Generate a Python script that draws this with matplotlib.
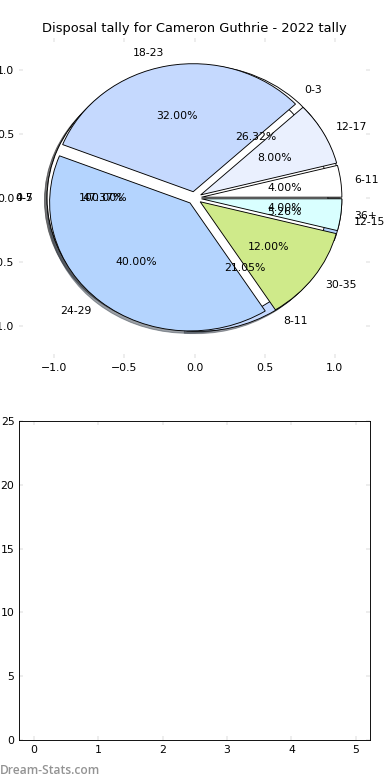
import matplotlib
matplotlib.use("Agg")
import matplotlib.pyplot as plt

# ---- data ----
title = "Disposal tally for Cameron Guthrie - 2022 tally"
labels_a = ["6-11", "12-17", "18-23", "24-29", "30-35", "36+"]
values_a = [1, 2, 8, 10, 3, 1]
labels_b = ["0-3", "4-7", "8-11", "12-15"]
values_b = [5, 9, 4, 1]
labels_c = ["0-5"]
values_c = [25]
palette = ["#ffffff", "#eaf0fe", "#c5d9fe", "#b4d4fe", "#cfea8a", "#d9ffff"]
pie_ticks = [-1.0, -0.5, 0.0, 0.5, 1.0]
bar_xticks = [0, 1, 2, 3, 4, 5]
bar_yticks = [0, 5, 10, 15, 20, 25]
watermark = "Dream-Stats.com"

plt.rcParams.update({
    "font.family": ["DejaVu Sans"],
    "font.size": 12,
    "xtick.direction": "in",
    "ytick.direction": "in",
    "xtick.top": True,
    "ytick.right": True,
    "xtick.major.size": 4,
    "ytick.major.size": 4,
    "xtick.major.width": 0.5,
    "ytick.major.width": 0.5,
    "xtick.major.pad": 5,
    "ytick.major.pad": 5,
    "axes.linewidth": 1.0,
})

DPI = 65
fig = plt.figure(figsize=(390 / DPI, 780 / DPI), dpi=DPI, facecolor="white")

ax1 = fig.add_axes([19 / 390, 1 - 358 / 780, 351 / 390, 320 / 780])
wp = dict(edgecolor="black", linewidth=1.0)
for labs, vals in [(labels_b, values_b), (labels_c, values_c), (labels_a, values_a)]:
    ax1.pie(vals, labels=labs, colors=palette[:len(vals)], explode=[0.05] * len(vals),
            autopct="%.2f%%", shadow=True, wedgeprops=wp,
            textprops=dict(fontsize=12), frame=False)
ax1.set_aspect("auto")
ax1.set_frame_on(False)
ax1.set_xlim(-1.25, 1.25)
ax1.set_ylim(-1.25, 1.25)
ax1.set_xticks(pie_ticks)
ax1.set_yticks(pie_ticks)
ax1.tick_params(colors="#b0b0b0", labelcolor="black")
ax1.set_title(title, fontsize=14.4, pad=7)

ax2 = fig.add_axes([19 / 390, 1 - 740 / 780, 351 / 390, 319 / 780])
ax2.set_xlim(-0.23, 5.22)
ax2.set_ylim(0, 25)
ax2.set_xticks(bar_xticks)
ax2.set_yticks(bar_yticks)
ax2.tick_params(colors="#b0b0b0", labelcolor="black")

fig.text(0.0, 1 - 770 / 780, watermark, color="#939393", fontsize=13.3,
         fontweight="semibold", ha="left", va="center", family="Open Sans")

fig.savefig("out.png", dpi=DPI, facecolor="white")
